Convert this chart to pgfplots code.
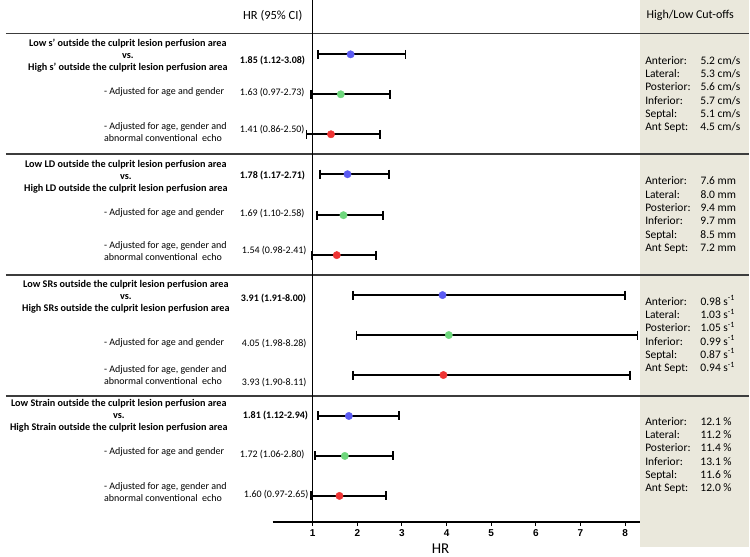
\documentclass[border=0pt]{standalone}
\usepackage{fontspec}
\setmainfont{Carlito}
\newfontfamily\arialfont{Liberation Sans}
\usepackage{pgfplots}
\pgfplotsset{compat=1.18}
\definecolor{panel}{HTML}{EAE8DC}
\definecolor{sep}{HTML}{3C3C3C}
\definecolor{cblue}{HTML}{5B5BF2}
\definecolor{cgreen}{HTML}{6ED77C}
\definecolor{cred}{HTML}{EE3434}
\begin{document}
\begin{tikzpicture}
\begin{scope}[shift={(-273pt,522pt)}, x=1pt, y=-1pt]
\fill[white] (0,0) rectangle (750,557);
\fill[panel] (641,0) rectangle (750,547);
\foreach \yy in {33,154,275,396} \draw[sep, line width=1.5pt] (6,\yy) -- (750,\yy);
\draw[black, line width=0.8pt] (313,0) -- (313,522);
\end{scope}
\begin{axis}[at={(0,0)}, anchor=south west, scale only axis,
  width=368pt, height=522pt,
  xmin=0.10455, xmax=8.3427, ymin=35, ymax=557,
  axis x line=bottom, axis y line=none,
  axis line style={-, line width=1.6pt, black},
  xtick={1,...,8}, ytick=\empty,
  tick align=outside, major tick length=4pt,
  tick style={black, line width=1pt},
  xticklabel style={font=\arialfont\bfseries\fontsize{10}{11}\selectfont},
  /pgf/number format/assume math mode=true,
  clip=false]
\pgfplotsset{whisk/.style={black, line width=1.8pt, mark=|, mark size=4.5pt}}
% group 1
\addplot[whisk] coordinates {(1.12,503) (3.08,503)};
\addplot[whisk] coordinates {(0.97,463) (2.73,463)};
\addplot[whisk] coordinates {(0.86,423) (2.50,423)};
% group 2
\addplot[whisk] coordinates {(1.17,383) (2.71,383)};
\addplot[whisk] coordinates {(1.10,342) (2.58,342)};
\addplot[whisk] coordinates {(0.98,302) (2.41,302)};
% group 3
\addplot[whisk] coordinates {(1.91,262) (8.00,262)};
\addplot[whisk] coordinates {(1.98,222) (8.28,222)};
\addplot[whisk] coordinates {(1.90,182) (8.11,182)};
% group 4
\addplot[whisk] coordinates {(1.12,141) (2.94,141)};
\addplot[whisk] coordinates {(1.06,101) (2.80,101)};
\addplot[whisk] coordinates {(0.97,61) (2.65,61)};
% points
\addplot[only marks, mark=*, mark size=3.7pt, mark options={draw=cblue, fill=cblue}] coordinates {(1.85,503) (1.78,383) (3.91,262) (1.81,141)};
\addplot[only marks, mark=*, mark size=3.7pt, mark options={draw=cgreen, fill=cgreen}] coordinates {(1.63,463) (1.69,342) (4.05,222) (1.72,101)};
\addplot[only marks, mark=*, mark size=3.7pt, mark options={draw=cred, fill=cred}] coordinates {(1.41,423) (1.54,302) (3.93,182) (1.60,61)};
\end{axis}
\begin{scope}[shift={(-273pt,522pt)}, x=1pt, y=-1pt, every node/.style={inner sep=0pt}]
\node[font=\fontsize{12.5}{14}\selectfont] at (273,15) {HR (95\% CI)};
\node[font=\fontsize{12}{14}\selectfont] at (691,15) {High/Low Cut-offs};
\node[font=\fontsize{15}{17}\selectfont] at (441,549) {HR};
% headings
\tikzset{head/.style={anchor=east, align=center, font=\bfseries\fontsize{10.2}{12}\selectfont},
  adj/.style={anchor=west, align=left, font=\fontsize{10}{12}\selectfont},
  hrb/.style={anchor=west, font=\bfseries\fontsize{10}{12}\selectfont},
  hr/.style={anchor=west, font=\fontsize{10}{12}\selectfont},
  cut/.style={anchor=west, align=left, font=\fontsize{11.5}{13.3}\selectfont}}
\node[head] at (228,55) {Low s’ outside the culprit lesion perfusion area\\vs.\\High s’ outside the culprit lesion perfusion area};
\node[head] at (228,177) {Low LD outside the culprit lesion perfusion area\\vs.\\High LD outside the culprit lesion perfusion area};
\node[head] at (230,297) {Low SRs outside the culprit lesion perfusion area\\vs.\\High SRs outside the culprit lesion perfusion area};
\node[head] at (228,416) {Low Strain outside the culprit lesion perfusion area\\vs.\\High Strain outside the culprit lesion perfusion area};
% adjusted
\node[adj] at (104,92) {- Adjusted for age and gender};
\node[adj] at (104,131.5) {- Adjusted for age, gender and\\abnormal conventional\ \ echo};
\node[adj] at (104,212.7) {- Adjusted for age and gender};
\node[adj] at (104,251) {- Adjusted for age, gender and\\abnormal conventional\ \ echo};
\node[adj] at (104,343) {- Adjusted for age and gender};
\node[adj] at (104,375) {- Adjusted for age, gender and\\abnormal conventional\ \ echo};
\node[adj] at (104,452) {- Adjusted for age and gender};
\node[adj] at (104,491.7) {- Adjusted for age, gender and\\abnormal conventional\ \ echo};
% HR values
\node[hrb] at (240,60) {1.85 (1.12-3.08)};
\node[hr] at (240,92) {1.63 (0.97-2.73)};
\node[hr] at (240,129) {1.41 (0.86-2.50)};
\node[hrb] at (240,175) {1.78 (1.17-2.71)};
\node[hr] at (240,213) {1.69 (1.10-2.58)};
\node[hr] at (242,250) {1.54 (0.98-2.41)};
\node[hrb] at (241,298) {3.91 (1.91-8.00)};
\node[hr] at (242,343) {4.05 (1.98-8.28)};
\node[hr] at (242,383) {3.93 (1.90-8.11)};
\node[hrb] at (243,416) {1.81 (1.12-2.94)};
\node[hr] at (240,455) {1.72 (1.06-2.80)};
\node[hr] at (244,495) {1.60 (0.97-2.65)};
% cut-offs
\node[cut] at (645.7,94) {\makebox[55.3pt][l]{Anterior:}5.2 cm/s\\\makebox[55.3pt][l]{Lateral:}5.3 cm/s\\\makebox[55.3pt][l]{Posterior:}5.6 cm/s\\\makebox[55.3pt][l]{Inferior:}5.7 cm/s\\\makebox[55.3pt][l]{Septal:}5.1 cm/s\\\makebox[55.3pt][l]{Ant Sept:}4.5 cm/s};
\node[cut] at (645.7,215) {\makebox[55.3pt][l]{Anterior:}7.6 mm\\\makebox[55.3pt][l]{Lateral:}8.0 mm\\\makebox[55.3pt][l]{Posterior:}9.4 mm\\\makebox[55.3pt][l]{Inferior:}9.7 mm\\\makebox[55.3pt][l]{Septal:}8.5 mm\\\makebox[55.3pt][l]{Ant Sept:}7.2 mm};
\node[cut] at (645.7,334.5) {\makebox[55.3pt][l]{Anterior:}0.98 s\textsuperscript{-1}\\\makebox[55.3pt][l]{Lateral:}1.03 s\textsuperscript{-1}\\\makebox[55.3pt][l]{Posterior:}1.05 s\textsuperscript{-1}\\\makebox[55.3pt][l]{Inferior:}0.99 s\textsuperscript{-1}\\\makebox[55.3pt][l]{Septal:}0.87 s\textsuperscript{-1}\\\makebox[55.3pt][l]{Ant Sept:}0.94 s\textsuperscript{-1}};
\node[cut] at (645.7,455.5) {\makebox[55.3pt][l]{Anterior:}12.1 \%\\\makebox[55.3pt][l]{Lateral:}11.2 \%\\\makebox[55.3pt][l]{Posterior:}11.4 \%\\\makebox[55.3pt][l]{Inferior:}13.1 \%\\\makebox[55.3pt][l]{Septal:}11.6 \%\\\makebox[55.3pt][l]{Ant Sept:}12.0 \%};
\end{scope}
\end{tikzpicture}
\end{document}
